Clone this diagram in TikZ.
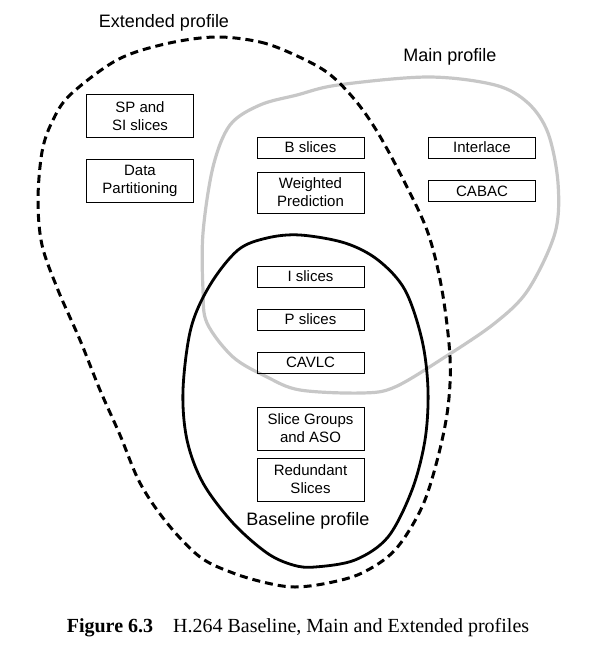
\documentclass[tikz,border=0pt]{standalone}
\usepackage{fontspec}
\setmainfont{Liberation Serif}
\newfontfamily\arialfont{Liberation Sans}
\tikzset{
  riquadro/.style={draw, line width=0.9pt, minimum width=107pt, inner sep=1pt, align=center,
    font=\arialfont\fontsize{15}{18}\selectfont},
  profilo/.style={font=\arialfont\fontsize{18}{20}\selectfont},
}
\begin{document}
\begin{tikzpicture}[x=1pt,y=-1pt]
        \useasboundingbox (0,0) rectangle (595,648);
        % Profili
        \draw [black!22,line width=3.2pt] plot [smooth cycle,tension=0.55] coordinates {
          (338,85) (428,77) (495,85) (528,103) (548,133) (558,183) (555,233) (528,290)
          (495,323) (445,357) (395,387) (362,393) (300,390) (267,377) (233,357) (207,323)
          (203,290) (203,233) (213,167) (230,125) (260,105) (297,95)};
        \draw [dash pattern=on 8pt off 5pt,line width=3pt] plot [smooth cycle,tension=0.55] coordinates {
          (215,37) (260,42) (295,55) (328,73) (355,100) (378,133) (405,183) (428,233)
          (442,290) (450,357) (448,407) (438,457) (422,507) (395,550) (362,573) (328,583)
          (295,587) (267,583) (233,573) (200,557) (167,523) (140,483) (120,435) (100,390)
          (80,340) (58,290) (42,245) (38,200) (42,152) (52,122) (70,95) (117,60) (165,44)};
        \draw [line width=2.8pt] plot [smooth cycle,tension=0.55] coordinates {
          (300,235) (345,243) (378,260) (405,290) (422,340) (428,390) (425,440) (412,490)
          (388,537) (355,560) (315,567) (293,565) (267,553) (233,523) (203,483) (187,440)
          (183,390) (191,328) (210,285) (238,250) (267,238)};
        % Nomi
        \node [profilo] (ext) at (164,23) {Extended profile};
        \node [profilo] (main) at (450,57) {Main profile};
        \node [profilo] (base) at (308,521) {Baseline profile};
        % Riquadri
        \node [riquadro,minimum height=43pt] (spsi) at (140,116) {SP and\\SI slices};
        \node [riquadro,minimum height=43pt] (datap) at (140,180.5) {Data\\Partitioning};
        \node [riquadro,minimum height=21pt] (bsl) at (310.5,147.5) {B slices};
        \node [riquadro,minimum height=41pt] (wpred) at (310.5,192.5) {Weighted\\Prediction};
        \node [riquadro,minimum height=21pt] (inter) at (482,147.5) {Interlace};
        \node [riquadro,minimum height=21pt] (cabac) at (482,191) {CABAC};
        \node [riquadro,minimum height=21pt] (isl) at (310.5,276.5) {I slices};
        \node [riquadro,minimum height=21pt] (psl) at (310.5,319.5) {P slices};
        \node [riquadro,minimum height=21pt] (cavlc) at (310.5,362.5) {CAVLC};
        \node [riquadro,minimum height=43pt] (sgaso) at (310.5,428.5) {Slice Groups\\and ASO};
        \node [riquadro,minimum height=43pt] (red) at (310.5,479.5) {Redundant\\Slices};
        % Didascalia
        \node [font=\fontsize{20}{22}\selectfont] (cap) at (298,628) {\textbf{Figure 6.3}\hspace{20pt}H.264 Baseline, Main and Extended profiles};
\end{tikzpicture}
\end{document}
